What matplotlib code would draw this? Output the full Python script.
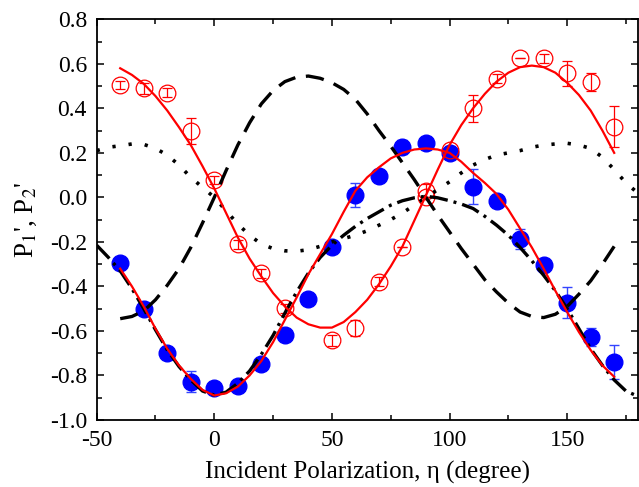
import numpy as np
import matplotlib
matplotlib.use("Agg")
import matplotlib.pyplot as plt
from matplotlib.ticker import MultipleLocator, FormatStrFormatter

plt.rcParams['font.family'] = ['Liberation Serif', 'DejaVu Serif']
plt.rcParams['mathtext.fontset'] = 'stix'
plt.rcParams['axes.unicode_minus'] = False

# measured points, P2' (blue filled)
blue_x = [-40, -30, -20, -10, 0, 10, 20, 30, 40, 50, 60, 70, 80, 90, 100, 110, 120, 130, 140, 150, 160, 170]
blue_y = [-0.295, -0.50, -0.697, -0.828, -0.855, -0.847, -0.75, -0.618, -0.457, -0.222, 0.011, 0.097,
          0.226, 0.243, 0.20, 0.048, -0.017, -0.186, -0.304, -0.473, -0.626, -0.738]
blue_err = [0.01, 0.01, 0.01, 0.047, 0.01, 0.01, 0.01, 0.01, 0.01, 0.01, 0.055, 0.01,
            0.03, 0.02, 0.01, 0.08, 0.01, 0.045, 0.01, 0.07, 0.04, 0.076]

# measured points, P1' (red open)
red_x = [-40, -30, -20, -10, 0, 10, 20, 30, 50, 60, 70, 80, 90, 90, 100, 110, 120, 130, 140, 150, 160, 170]
red_y = [0.505, 0.49, 0.47, 0.298, 0.078, -0.21, -0.341, -0.498, -0.641, -0.586, -0.379, -0.224,
         0.03, 0.003, 0.215, 0.40, 0.532, 0.625, 0.625, 0.557, 0.52, 0.318]
red_err = [0.02, 0.025, 0.02, 0.058, 0.02, 0.02, 0.02, 0.02, 0.025, 0.035, 0.02, 0.0,
           0.03, 0.0, 0.015, 0.062, 0.02, 0.0, 0.02, 0.056, 0.04, 0.093]

# fit curves (every 5 degrees)
fit_x = [-40, -35, -30, -25, -20, -15, -10, -5, 0, 5, 10, 15, 20, 25, 30, 35, 40, 45, 50, 55, 60, 65,
         70, 75, 80, 85, 90, 95, 100, 105, 110, 115, 120, 125, 130, 135, 140, 145, 150, 155, 160, 165, 170]
fit_red_open = [0.58, 0.55, 0.51, 0.455, 0.39, 0.315, 0.235, 0.14, 0.04, -0.07, -0.18, -0.275, -0.355,
                -0.43, -0.49, -0.54, -0.57, -0.585, -0.585, -0.56, -0.515, -0.46, -0.39, -0.31, -0.22,
                -0.105, 0.01, 0.125, 0.235, 0.325, 0.40, 0.465, 0.52, 0.56, 0.585, 0.592, 0.585, 0.56,
                0.515, 0.46, 0.39, 0.30, 0.20]
fit_blue = [-0.32, -0.40, -0.49, -0.59, -0.68, -0.755, -0.815, -0.865, -0.89, -0.88, -0.85, -0.80, -0.735,
            -0.65, -0.55, -0.45, -0.345, -0.255, -0.165, -0.065, 0.03, 0.09, 0.135, 0.175, 0.20, 0.215,
            0.22, 0.215, 0.20, 0.16, 0.11, 0.065, 0.015, -0.055, -0.14, -0.225, -0.32, -0.42, -0.515,
            -0.605, -0.686, -0.755, -0.806]
dashed_y = [-0.545, -0.535, -0.51, -0.46, -0.395, -0.32, -0.225, -0.115, 0.0, 0.12, 0.235, 0.335, 0.42,
            0.48, 0.52, 0.54, 0.545, 0.535, 0.515, 0.485, 0.44, 0.375, 0.30, 0.23, 0.155, 0.08, 0.0,
            -0.08, -0.155, -0.23, -0.30, -0.37, -0.425, -0.475, -0.515, -0.535, -0.54, -0.525, -0.49,
            -0.435, -0.375, -0.30, -0.22]

calc_x = [-50, -45, -40, -35, -30, -25, -20, -15, -10, -5, 0, 5, 10, 15, 20, 25, 30, 35, 40, 45, 50, 55,
          60, 65, 70, 75, 80, 85, 90, 95, 100, 105, 110, 115, 120, 125, 130, 135, 140, 145, 150, 155,
          160, 165, 170, 175, 180]
dotted_y = [0.21, 0.225, 0.232, 0.24, 0.238, 0.22, 0.19, 0.145, 0.09, 0.045, 0.0, -0.06, -0.12, -0.17,
            -0.21, -0.23, -0.24, -0.242, -0.235, -0.22, -0.20, -0.185, -0.17, -0.15, -0.125, -0.10,
            -0.07, -0.035, 0.0, 0.035, 0.07, 0.11, 0.145, 0.17, 0.19, 0.20, 0.21, 0.225, 0.235, 0.24,
            0.243, 0.235, 0.22, 0.18, 0.125, 0.065, 0.02]
dashdot_y = [-0.215, -0.27, -0.33, -0.41, -0.50, -0.595, -0.685, -0.76, -0.82, -0.87, -0.888, -0.875,
             -0.835, -0.78, -0.705, -0.62, -0.52, -0.425, -0.34, -0.27, -0.215, -0.17, -0.13, -0.095,
             -0.065, -0.035, -0.015, -0.002, 0.005, -0.002, -0.015, -0.03, -0.05, -0.085, -0.125,
             -0.17, -0.225, -0.285, -0.35, -0.42, -0.50, -0.59, -0.68, -0.755, -0.82, -0.87, -0.893]

fig = plt.figure(figsize=(6.39, 4.87), dpi=100)
ax = fig.add_axes([0.1513, 0.1376, 0.8467, 0.8228])

# data points
ax.errorbar(blue_x, blue_y, yerr=blue_err, fmt='o', color='#0000ff', ecolor='#3344ff',
            markersize=12, elinewidth=1, capsize=3.5, capthick=1, zorder=2)
ax.errorbar(red_x, red_y, yerr=red_err, fmt='o', mfc='none', mec='#ff0000', ecolor='#ff0000',
            markersize=12, mew=0.9, elinewidth=0.9, capsize=3.5, capthick=0.9, zorder=2)

# curves
ax.plot(calc_x, dotted_y, color='black', lw=2.6, dashes=(0.9, 3.6), zorder=3)
ax.plot(fit_x, dashed_y, color='black', lw=2.4, dashes=(5.5, 3.2), zorder=3)
ax.plot(calc_x, dashdot_y, color='black', lw=2.4, dashes=(5.5, 1.8, 0.9, 1.8), zorder=3)
ax.plot(fit_x, fit_red_open, color='#ff0000', lw=1.6, zorder=4)
ax.plot(fit_x, fit_blue, color='#ff0000', lw=1.6, zorder=4)

ax.set_xlim(-50, 180)
ax.set_ylim(-1.0, 0.8)
ax.xaxis.set_major_locator(MultipleLocator(50))
ax.xaxis.set_minor_locator(MultipleLocator(25))
ax.yaxis.set_major_locator(MultipleLocator(0.2))
ax.yaxis.set_minor_locator(MultipleLocator(0.1))
ax.yaxis.set_major_formatter(FormatStrFormatter('%.1f'))
ax.tick_params(which='both', direction='in', top=True, right=True, width=1.1)
ax.tick_params(which='major', length=5, labelsize=17, pad=7)
ax.tick_params(which='minor', length=3.5)
for s in ax.spines.values():
    s.set_linewidth(1.3)

ax.set_xlabel(u'Incident Polarization, \u03b7 (degree)', fontsize=18, labelpad=7)
ax.set_ylabel(r"P$_1$', P$_2$'", fontsize=19.5, labelpad=8)

fig.savefig('out.png', dpi=100)
